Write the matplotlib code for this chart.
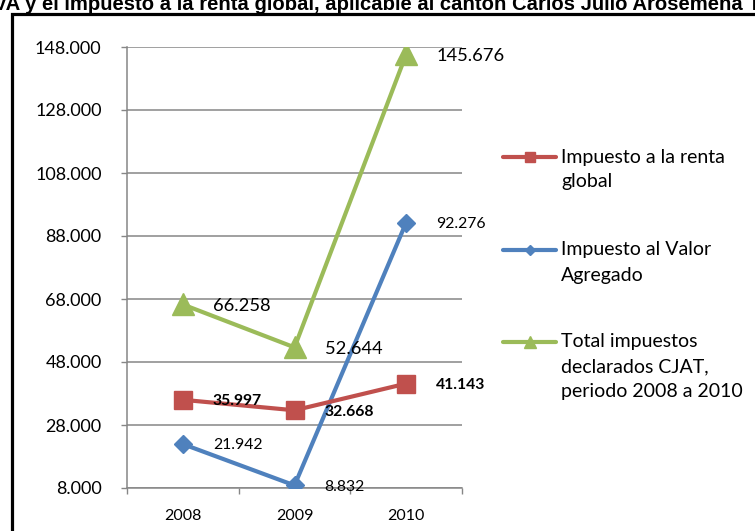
# Line chart: IVA, impuesto a la renta y total declarado (2008-2010)

import numpy as np
import matplotlib.pyplot as plt

# Data
years = ['2008', '2009', '2010']
renta = [35997, 32668, 41143]
iva = [21942, 8832, 92276]
total = [66258, 52644, 145676]

y_ticks = np.arange(8000, 148001, 20000)

legend_labels = ['Impuesto a la renta\nglobal',
                 'Impuesto al Valor\nAgregado',
                 'Total impuestos\ndeclarados CJAT,\nperiodo 2008 a 2010']

title = 'IVA y el impuesto a la renta global, aplicable al cantón Carlos Julio Arosemena Tola'

red = '#C0504D'
blue = '#4F81BD'
green = '#9BBB59'
grid_gray = '#868686'

def fmt(v):
    return f'{v:,}'.replace(',', '.')

plt.rcParams['font.family'] = ['Lato', 'DejaVu Sans']

W, H = 755, 531
fig = plt.figure(figsize=(W / 100, H / 100), dpi=100)

# Plot area
ax = fig.add_axes([127 / W, (H - 488) / H, (462 - 127) / W, (488 - 47) / H])
x = np.arange(len(years))

ax.plot(x, iva, color=blue, lw=3, marker='D', ms=9.5, mec=blue, mfc=blue, zorder=3)
ax.plot(x, renta, color=red, lw=3, marker='s', ms=13, mec=red, mfc=red, zorder=3)
ax.plot(x, total, color=green, lw=3, marker='^', ms=16, mec=green, mfc=green, zorder=3)

# Data labels
for xi, v in zip(x, total):
    ax.annotate(fmt(v), (xi, v), xytext=(21.6, -1), textcoords='offset points',
                ha='left', va='center', fontsize=13.2, color='black')
for xi, v in zip(x, iva):
    ax.annotate(fmt(v), (xi, v), xytext=(21.6, -1), textcoords='offset points',
                ha='left', va='center', fontsize=11.3, color='black')
for xi, v in zip(x, renta):
    ax.annotate(fmt(v), (xi, v), xytext=(21.6, -1), textcoords='offset points',
                ha='left', va='center', fontsize=11.3, fontweight='bold', color='black')

ax.set_xlim(-0.5, 2.5)
ax.set_ylim(8000, 148000)
ax.set_yticks(y_ticks)
ax.set_yticklabels([fmt(v) for v in y_ticks], fontsize=13)
ax.set_xticks(x)
ax.set_xticklabels(years, fontsize=11.5)
ax.set_xticks([-0.5, 0.5, 1.5, 2.5], minor=True)
ax.tick_params(axis='x', which='major', length=0, pad=15)
ax.tick_params(axis='x', which='minor', length=4, width=1, color=grid_gray, direction='out')
ax.tick_params(axis='y', length=4.3, width=1, color=grid_gray, direction='out', pad=14)
ax.grid(axis='y', color=grid_gray, lw=1.1)
ax.set_axisbelow(True)
for side in ['top', 'right']:
    ax.spines[side].set_visible(False)
for side in ['left', 'bottom']:
    ax.spines[side].set_color(grid_gray)
    ax.spines[side].set_linewidth(1.1)

# Overlay in pixel coords for title, border and legend
ov = fig.add_axes([0, 0, 1, 1], facecolor='none')
ov.set_xlim(0, W)
ov.set_ylim(H, 0)
ov.axis('off')

# the title is clipped by the page in the original, as here
ov.text(-12, 10, title, ha='left', va='baseline', fontsize=14.6,
        fontweight='bold', family=['Liberation Sans', 'DejaVu Sans'])
ov.plot([12, 12, W + 5], [H + 5, 13.5, 13.5], color='black', lw=2.3,
        solid_joinstyle='miter')

handles = [(red, 's', 7), (blue, 'D', 5.5), (green, '^', 8.5)]
legend_y = [157, 250, 342]
for (col, mk, ms), y0, lab in zip(handles, legend_y, legend_labels):
    ov.plot([503, 556], [y0, y0], color=col, lw=3, solid_capstyle='round')
    ov.plot([529.5], [y0], marker=mk, ms=ms, color=col)
    for i, line in enumerate(lab.split('\n')):
        ov.text(561, y0 + 25 * i, line, ha='left', va='center', fontsize=14)

fig.savefig('out.png', dpi=100)
